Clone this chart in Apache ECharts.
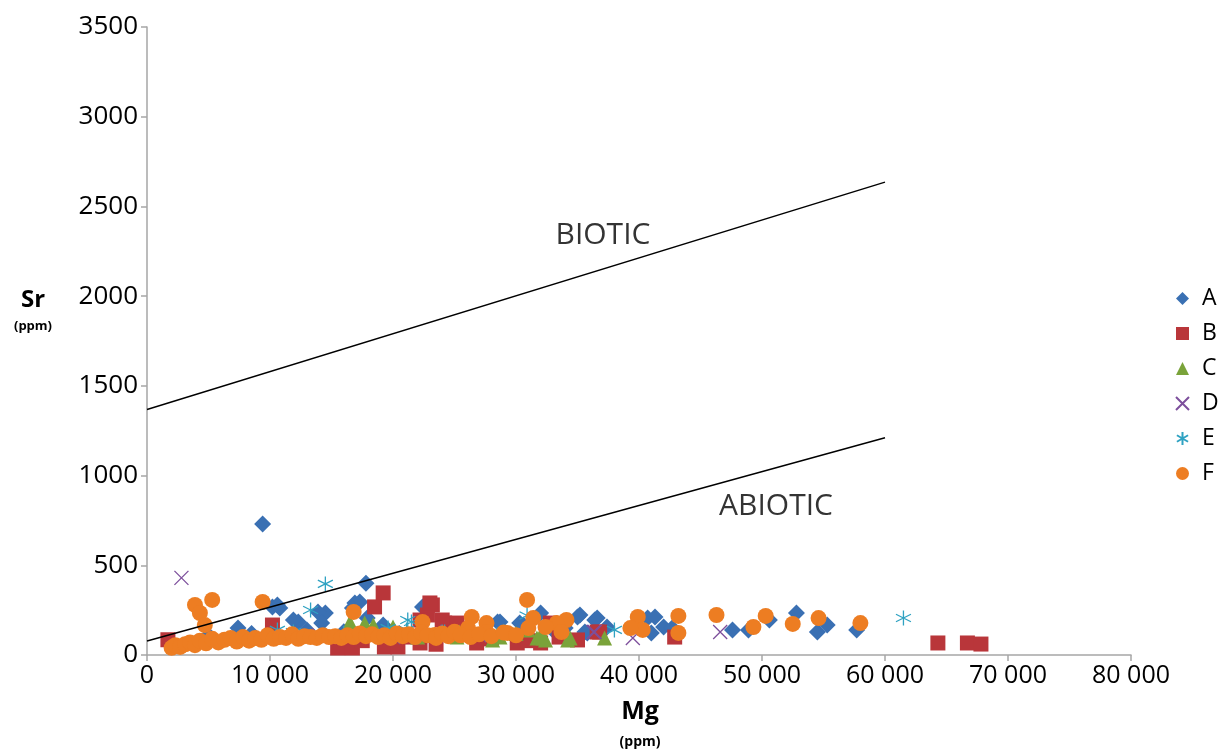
<!DOCTYPE html>
<html>
<head>
<meta charset="utf-8">
<script src="https://cdn.jsdelivr.net/npm/echarts@6/dist/echarts.min.js"></script>
<style>
html,body{margin:0;padding:0;background:#fff;}
#chart{width:1229px;height:753px;}
</style>
</head>
<body>
<div id="chart"></div>
<script>
// ---- data (Mg ppm, Sr ppm) ----
var seriesNames = ['A', 'B', 'C', 'D', 'E', 'F'];
var xTicks = [0, 10000, 20000, 30000, 40000, 50000, 60000, 70000, 80000];
var yTicks = [0, 500, 1000, 1500, 2000, 2500, 3000, 3500];

var dataA = [[9400,730],[17800,400],[17300,296],[16900,290],[10200,268],[10800,262],[10600,279],
  [14500,234],[13900,240],[16700,262],[12300,184],[7400,150],[17900,206],[14200,178],[19200,167],
  [11900,195],[22400,268],[28700,184],[30600,167],[35200,223],[36600,206],[37400,156],[35800,123],
  [40700,206],[41300,212],[41000,123],[42000,156],[42700,150],[47600,140],[48900,140],[50600,195],
  [52800,234],[54500,128],[55300,167],[57700,140],[35000,212],[36400,195],[35600,128],[28500,184],
  [30300,178],[32000,234],[5000,110],[8500,120],[13000,140],[16000,130],[20500,120],[24000,130],
  [26000,150],[27500,140],[33000,140],[34000,150]];
var dataB = [[1700,85],[19200,346],[18500,268],[10200,167],[23200,279],[22800,223],[22200,195],
  [24200,178],[36800,128],[23000,290],[24000,195],[25200,178],[26800,67],[30100,67],[32000,67],
  [22200,67],[15500,39],[16700,39],[19300,45],[20400,45],[32800,178],[35000,84],[36600,128],
  [42900,100],[64300,67],[66700,67],[67800,61],[28000,90],[31000,80],[27000,110],[33500,100],
  [21000,100],[17500,80],[23500,60]];
var dataC = [[25200,100],[28100,84],[28700,100],[31700,95],[32200,95],[22000,100],[34200,84],
  [37200,95],[32400,84],[16500,184],[17700,178],[18400,167],[20000,156],[25400,128],[28500,112],
  [32000,112],[34400,95],[30000,120],[31000,140]];
var dataD = [[2800,430],[46600,128],[36400,128],[39500,95],[24500,128],[24400,128],[36300,128],
  [14000,110],[20000,100],[27000,110]];
var dataE = [[14500,396],[13300,251],[61500,206],[38000,140],[21200,195],[24000,128],[11900,128],
  [21100,140],[19600,150],[10600,140],[21500,184],[24200,128],[30900,220],[16000,120],[26500,120],
  [29000,130]];
var dataF = [[5300,307],[3900,279],[4300,234],[4700,167],[9400,296],[16800,240],[30900,307],
  [26400,212],[22400,184],[27600,178],[31400,206],[34100,195],[33300,178],[39900,212],[40300,140],
  [39300,150],[29300,123],[32400,156],[33700,128],[31000,150],[26100,150],[27600,128],[21000,112],
  [23400,112],[43200,218],[43200,123],[46300,223],[49300,156],[50300,218],[52500,173],[54600,206],
  [58000,178],
  [2000,40],[2300,55],[2700,45],[3100,60],[3500,70],[3900,55],[4300,80],[4800,65],[5300,90],
  [5800,70],[6300,85],[6800,95],[7300,75],[7800,100],[8300,80],[8800,95],[9300,85],[9800,110],
  [10300,90],[10800,100],[11300,95],[11800,115],[12300,90],[12800,105],[13300,100],[13800,95],
  [14300,110],[14800,100],[15300,105],[15800,95],[16300,110],[16800,100],[17300,120],[17800,105],
  [18300,115],[18800,100],[19300,110],[19800,95],[20300,120],[20800,105],[21300,115],[21800,100],
  [22300,125],[22800,110],[23500,95],[24000,120],[24500,105],[25000,130],[25500,110],[26300,100],
  [27000,115],[28000,105],[29000,125],[30000,110]];

// boundary lines and their labels
var bioticLine = [[0,1368],[60000,2635]];
var abioticLine = [[0,78],[60000,1211]];
var zoneLabels = [{name:'BIOTIC', value:[37070,2339]},{name:'ABIOTIC', value:[51140,826]}];

var colors = ['#3a70b3','#b9363a','#7aa33a','#7d4f9c','#2fa2c2','#ed7d22'];
var symbols = ['diamond','rect','triangle',
  'path://M0,0 L10,10 M10,0 L0,10',
  'path://M5,0 L5,10 M0.7,2.5 L9.3,7.5 M0.7,7.5 L9.3,2.5',
  'circle'];
var sizes = [17, 15, 15, 14, 15, 16];
var allData = [dataA, dataB, dataC, dataD, dataE, dataF];

var FONT = 'Open Sans';
var series = [];
seriesNames.forEach(function(n, i){
  var isStroke = (i === 3 || i === 4);
  series.push({
    name: n, type: 'scatter', data: allData[i], symbol: symbols[i], symbolSize: sizes[i],
    itemStyle: isStroke ? {color: colors[i], borderColor: colors[i], borderWidth: 1.3, opacity: 1}
                        : {color: colors[i], opacity: 1},
    z: 3 + i
  });
});
series.push({name:'biotic', type:'line', data: bioticLine, symbol:'none', silent:true,
  lineStyle:{color:'#000', width:1.4}, z: 2});
series.push({name:'abiotic', type:'line', data: abioticLine, symbol:'none', silent:true,
  lineStyle:{color:'#000', width:1.4}, z: 20});
series.push({name:'labels', type:'scatter', data: zoneLabels, symbolSize: 0, silent:true,
  label:{show:true, position:'inside', formatter:'{b}', color:'#000', fontSize:30, fontFamily:FONT}});

function fmtThousands(v){
  if (v === 0) return '0';
  var s = String(v);
  return s.slice(0, s.length-3) + ' ' + s.slice(s.length-3);
}

var chart = echarts.init(document.getElementById('chart'), null, {renderer:'canvas'});
chart.setOption({
  animation: false,
  backgroundColor: '#fff',
  grid: {left:147, right:98, top:27, bottom:98, containLabel:false},
  xAxis: {type:'value', min: xTicks[0], max: xTicks[xTicks.length-1], interval: 10000,
    splitLine:{show:false},
    axisLine:{lineStyle:{color:'#a6a6a6', width:1.5}},
    axisTick:{show:true, length:6, lineStyle:{color:'#a6a6a6', width:1.5}},
    axisLabel:{color:'#000', fontSize:25, fontFamily:FONT, margin:8, formatter: fmtThousands}},
  yAxis: {type:'value', min: yTicks[0], max: yTicks[yTicks.length-1], interval: 500,
    splitLine:{show:false},
    axisLine:{show:true, lineStyle:{color:'#a6a6a6', width:1.5}},
    axisTick:{show:true, length:6, lineStyle:{color:'#a6a6a6', width:1.5}},
    axisLabel:{color:'#000', fontSize:26, fontFamily:FONT, margin:9, formatter: function(v){ return String(v); }}},
  legend: {data: seriesNames, orient:'vertical', left:1170, top:282, itemGap:12,
    itemWidth:13, itemHeight:13,
    textStyle:{color:'#000', fontSize:23, fontFamily:FONT, padding:[0,0,0,8]}},
  graphic: [
    {type:'text', style:{x:33, y:300, text:'Sr', font:'bold 24px "Open Sans"', fill:'#000', textAlign:'center', textVerticalAlign:'middle'}},
    {type:'text', style:{x:33, y:326, text:'(ppm)', font:'bold 13px "Open Sans"', fill:'#000', textAlign:'center', textVerticalAlign:'middle'}},
    {type:'text', style:{x:640, y:712, text:'Mg', font:'bold 25px "Open Sans"', fill:'#000', textAlign:'center', textVerticalAlign:'middle'}},
    {type:'text', style:{x:640, y:742, text:'(ppm)', font:'bold 14px "Open Sans"', fill:'#000', textAlign:'center', textVerticalAlign:'middle'}}
  ],
  series: series
});
</script>
</body>
</html>
